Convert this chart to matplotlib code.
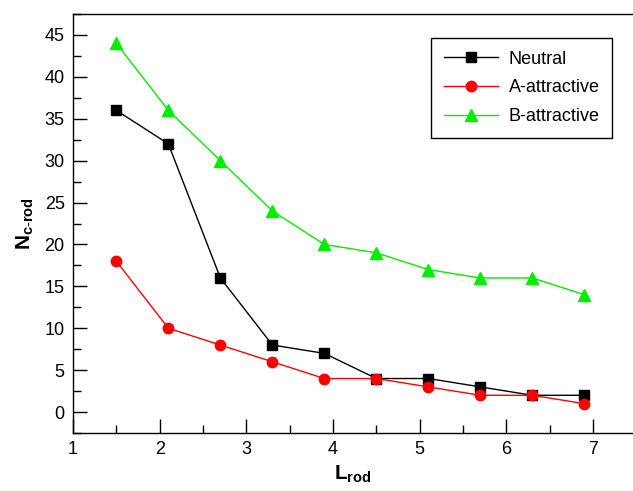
import matplotlib
matplotlib.use('Agg')
import matplotlib.pyplot as plt
from matplotlib.ticker import MultipleLocator

# data
l_rod = [1.5, 2.1, 2.7, 3.3, 3.9, 4.5, 5.1, 5.7, 6.3, 6.9]
neutral = [36, 32, 16, 8, 7, 4, 4, 3, 2, 2]
a_attractive = [18, 10, 8, 6, 4, 4, 3, 2, 2, 1]
b_attractive = [44, 36, 30, 24, 20, 19, 17, 16, 16, 14]

plt.rcParams['font.family'] = ['Liberation Sans', 'DejaVu Sans']
plt.rcParams['mathtext.fontset'] = 'custom'
plt.rcParams['mathtext.bf'] = 'Liberation Sans:bold'
plt.rcParams['mathtext.rm'] = 'Liberation Sans'

fig = plt.figure(figsize=(6.33, 4.91), dpi=100)
ax = fig.add_axes([73 / 633, 1 - 433 / 491, 560 / 633, 419 / 491])

ax.plot(l_rod, neutral, color='black', lw=1, marker='s', ms=7, label='Neutral')
ax.plot(l_rod, a_attractive, color='red', lw=1, marker='o', ms=7.5, label='A-attractive')
ax.plot(l_rod, b_attractive, color='#00ee00', lw=1, marker='^', ms=9, label='B-attractive')

ax.set_xlim(1, 7.46)
ax.set_ylim(-2.5, 47.5)
ax.xaxis.set_major_locator(MultipleLocator(1))
ax.xaxis.set_minor_locator(MultipleLocator(0.5))
ax.yaxis.set_major_locator(MultipleLocator(5))
ax.yaxis.set_minor_locator(MultipleLocator(2.5))
ax.tick_params(which='both', direction='in', top=False, right=False, labelsize=13, pad=6)
ax.tick_params(which='major', length=10, width=1)
ax.tick_params(which='minor', length=6, width=1)
for s in ax.spines.values():
    s.set_linewidth(1)
ax.spines['right'].set_visible(False)

ax.set_xlabel(r'$\mathbf{L_{rod}}$', fontsize=15, labelpad=4)
ax.set_ylabel(r'$\mathbf{N_{c\text{-}rod}}$', fontsize=15, labelpad=6)

# legend box: upper left corner at (431, 38) px
leg = ax.legend(loc='upper left',
                bbox_to_anchor=((431 - 73) / 560, 1 - (38 - 14) / 419),
                fontsize=13, fancybox=False, edgecolor='black', framealpha=1,
                handlelength=3, handletextpad=0.6, borderpad=0.7,
                labelspacing=0.65, borderaxespad=0)
leg.get_frame().set_linewidth(1)

fig.savefig('out.png', dpi=100)
